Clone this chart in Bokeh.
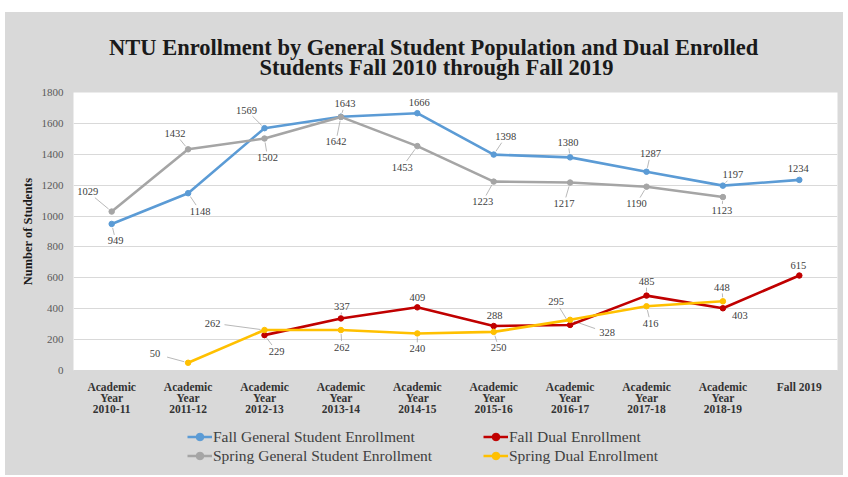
import math
from bokeh.plotting import figure
from bokeh.models import (ColumnDataSource, FactorRange, Range1d, Legend, Label,
                          LegendItem, FixedTicker, Spacer)
from bokeh.layouts import column, row
from bokeh.core.properties import value
from bokeh.embed import file_html
from bokeh.resources import INLINE

# ---------------- data ----------------
categories = [
    "Academic\nYear\n2010-11", "Academic\nYear\n2011-12", "Academic\nYear\n2012-13",
    "Academic\nYear\n2013-14", "Academic\nYear\n2014-15", "Academic\nYear\n2015-16",
    "Academic\nYear\n2016-17", "Academic\nYear\n2017-18", "Academic\nYear\n2018-19",
    "Fall 2019",
]
fall_general = [949, 1148, 1569, 1643, 1666, 1398, 1380, 1287, 1197, 1234]
spring_general = [1029, 1432, 1502, 1642, 1453, 1223, 1217, 1190, 1123, None]
fall_dual = [None, None, 229, 337, 409, 288, 295, 485, 403, 615]
spring_dual = [None, 50, 262, 262, 240, 250, 328, 416, 448, None]
y_ticks = [0, 200, 400, 600, 800, 1000, 1200, 1400, 1600, 1800]
title_lines = ["NTU Enrollment by General Student Population and Dual  Enrolled",
               "Students Fall 2010 through Fall 2019"]
y_title = "Number of Students"
names = ["Fall General Student Enrollment", "Fall Dual Enrollment",
         "Spring General Student Enrollment", "Spring Dual Enrollment"]

# ---------------- styles ----------------
colors = ["#5b9bd5", "#c00000", "#a5a5a5", "#ffc000"]
BG = "#d9d9d9"
SERIF = "Liberation Serif"
# label offsets in pixels (dx right, dy up) from each point
fg_off = [(4, -17), (12, -18), (-18, 18), (4, 13), (2, 11), (12, 18), (-2, 15), (4, 18), (10, 11), (-1, 11)]
sg_off = [(-24, 20), (-13, 16), (3, -19), (-5, -25), (-15, -21), (-11, -20), (-6, -21), (-10, -17), (-1, -13), None]
fd_off = [None, None, (12, -16), (1, 12), (0, 10), (1, 11), (-14, 23), (0, 14), (17, -7), (-1, 10)]
sd_off = [None, (-33, 9), (-52, 7), (1, -17), (0, -15), (5, -16), (37, -13), (4, -17), (-1, 14), None]

W = 838
TITLE_H = 70
ML, MR, MT, MB = 68, 6, 10, 45
FRAME_H = 280
MAIN_H = MT + FRAME_H + MB
LEG_H = 58
FRAME_W = W - ML - MR
XPX = FRAME_W / len(categories)
YPX = FRAME_H / (y_ticks[-1] - y_ticks[0])


def blank_fig(h):
    # transparent strip; frames of figures in a column are aligned with the main frame
    f = figure(width=W, height=h, x_range=Range1d(0, FRAME_W), y_range=Range1d(0, h),
               output_backend="svg", toolbar_location=None,
               x_axis_type=None, y_axis_type=None,
               min_border_left=ML, min_border_right=MR, min_border_top=0, min_border_bottom=0,
               background_fill_color=None, border_fill_color=None)
    f.outline_line_color = None
    return f


# ---------------- title ----------------
pt = blank_fig(TITLE_H)
for k, line in enumerate(title_lines):
    pt.add_layout(Label(x=436 - 73, y=35 - 20 * k, text=line, text_align="center",
                        text_baseline="middle", text_font=SERIF, text_font_style="bold",
                        text_font_size="22.5px", text_color="#1a1a1a"))

# ---------------- main chart ----------------
p = figure(x_range=FactorRange(*categories, range_padding=0),
           y_range=Range1d(y_ticks[0], y_ticks[-1]),
           width=W, height=MAIN_H, output_backend="svg", toolbar_location=None,
           min_border_left=ML, min_border_right=MR, min_border_top=MT, min_border_bottom=MB,
           background_fill_color="white", border_fill_color=None)
p.outline_line_color = None
p.xgrid.visible = False
p.ygrid.grid_line_color = "#d9d9d9"
p.ygrid.grid_line_width = 1

p.yaxis.ticker = FixedTicker(ticks=y_ticks)
p.yaxis.axis_line_color = None
p.yaxis.major_tick_line_color = None
p.yaxis.minor_tick_line_color = None
p.yaxis.major_label_text_font = SERIF
p.yaxis.major_label_text_font_size = "11px"
p.yaxis.major_label_text_color = "#595959"
p.yaxis.major_label_standoff = 4
p.yaxis.axis_label = y_title
p.yaxis.axis_label_text_font = SERIF
p.yaxis.axis_label_text_font_style = "bold"
p.yaxis.axis_label_text_font_size = "12.5px"
p.yaxis.axis_label_text_color = "#1a1a1a"
p.yaxis.axis_label_standoff = 4

p.xaxis.axis_line_color = "#d9d9d9"
p.xaxis.major_tick_line_color = None
p.xaxis.minor_tick_line_color = None
p.xaxis.major_label_text_font = SERIF
p.xaxis.major_label_text_font_style = "bold"
p.xaxis.major_label_text_font_size = "11.5px"
p.xaxis.major_label_text_line_height = 0.92
p.xaxis.major_label_text_color = "#333333"
p.xaxis.major_label_standoff = 4

series = [(fall_general, fg_off), (fall_dual, fd_off), (spring_general, sg_off), (spring_dual, sd_off)]

# leader lines from each point toward its moved label
lx0, ly0, lx1, ly1 = [], [], [], []
for vals, offs in series:
    for i, (v, o) in enumerate(zip(vals, offs)):
        if v is None or o is None:
            continue
        dx, dy = o
        d = math.hypot(dx, dy)
        if d < 12:
            continue
        ux, uy = dx / d, dy / d
        t = min(12 / abs(ux) if ux else 1e9, 6 / abs(uy) if uy else 1e9)
        s = 4
        if d - t - s < 2:
            continue
        cx = i + 0.5
        lx0.append(cx + ux * s / XPX)
        ly0.append(v + uy * s / YPX)
        lx1.append(cx + (dx - ux * t) / XPX)
        ly1.append(v + (dy - uy * t) / YPX)
p.segment(x0=lx0, y0=ly0, x1=lx1, y1=ly1, line_color="#a6a6a6", line_width=0.8)

for (vals, offs), color in zip(series, colors):
    xs = [c for c, v in zip(categories, vals) if v is not None]
    ys = [v for v in vals if v is not None]
    dxs = [o[0] for v, o in zip(vals, offs) if v is not None]
    dys = [-o[1] for v, o in zip(vals, offs) if v is not None]
    src = ColumnDataSource(dict(x=xs, y=ys, lab=[str(v) for v in ys], dx=dxs, dy=dys))
    p.line("x", "y", source=src, line_color=color, line_width=2.6)
    p.scatter("x", "y", source=src, marker="circle", size=5.5, fill_color=color, line_color=color)
    p.text("x", "y", text="lab", x_offset="dx", y_offset="dy", source=src,
           text_font=value(SERIF), text_font_size="10.5px", text_color="#404040",
           text_align="center", text_baseline="middle")

# ---------------- legend strip ----------------
pl = blank_fig(LEG_H)
leg_items = []
for name, color in zip(names, colors):
    # a single off-screen sample so that the legend can draw the swatch
    proxy = ColumnDataSource(dict(x=[-1000], y=[-1000]))
    ln = pl.line("x", "y", source=proxy, line_color=color, line_width=2.5)
    sc = pl.scatter("x", "y", source=proxy, marker="circle", size=5.5, fill_color=color, line_color=color)
    leg_items.append(LegendItem(label=name, renderers=[ln, sc]))


def make_legend(items, loc):
    leg = Legend(items=items, location=loc, orientation="vertical")
    leg.background_fill_alpha = 0
    leg.border_line_alpha = 0
    leg.padding = 0
    leg.margin = 0
    leg.spacing = 0
    leg.glyph_width = 25
    leg.glyph_height = 19
    leg.label_height = 19
    leg.label_standoff = 1
    leg.label_text_font = SERIF
    leg.label_text_font_size = "15.5px"
    leg.label_text_color = "#404040"
    leg.label_text_baseline = "middle"
    return leg


pl.add_layout(make_legend([leg_items[0], leg_items[2]], (187 - 73, 10)))
pl.add_layout(make_legend([leg_items[1], leg_items[3]], (483 - 73, 10)))

panel = column(pt, p, pl, styles={"background-color": BG})
layout = column(Spacer(width=W + 5, height=12),
                row(Spacer(width=5, height=TITLE_H + MAIN_H + LEG_H), panel))
open("out.html", "w").write(file_html(layout, INLINE))
